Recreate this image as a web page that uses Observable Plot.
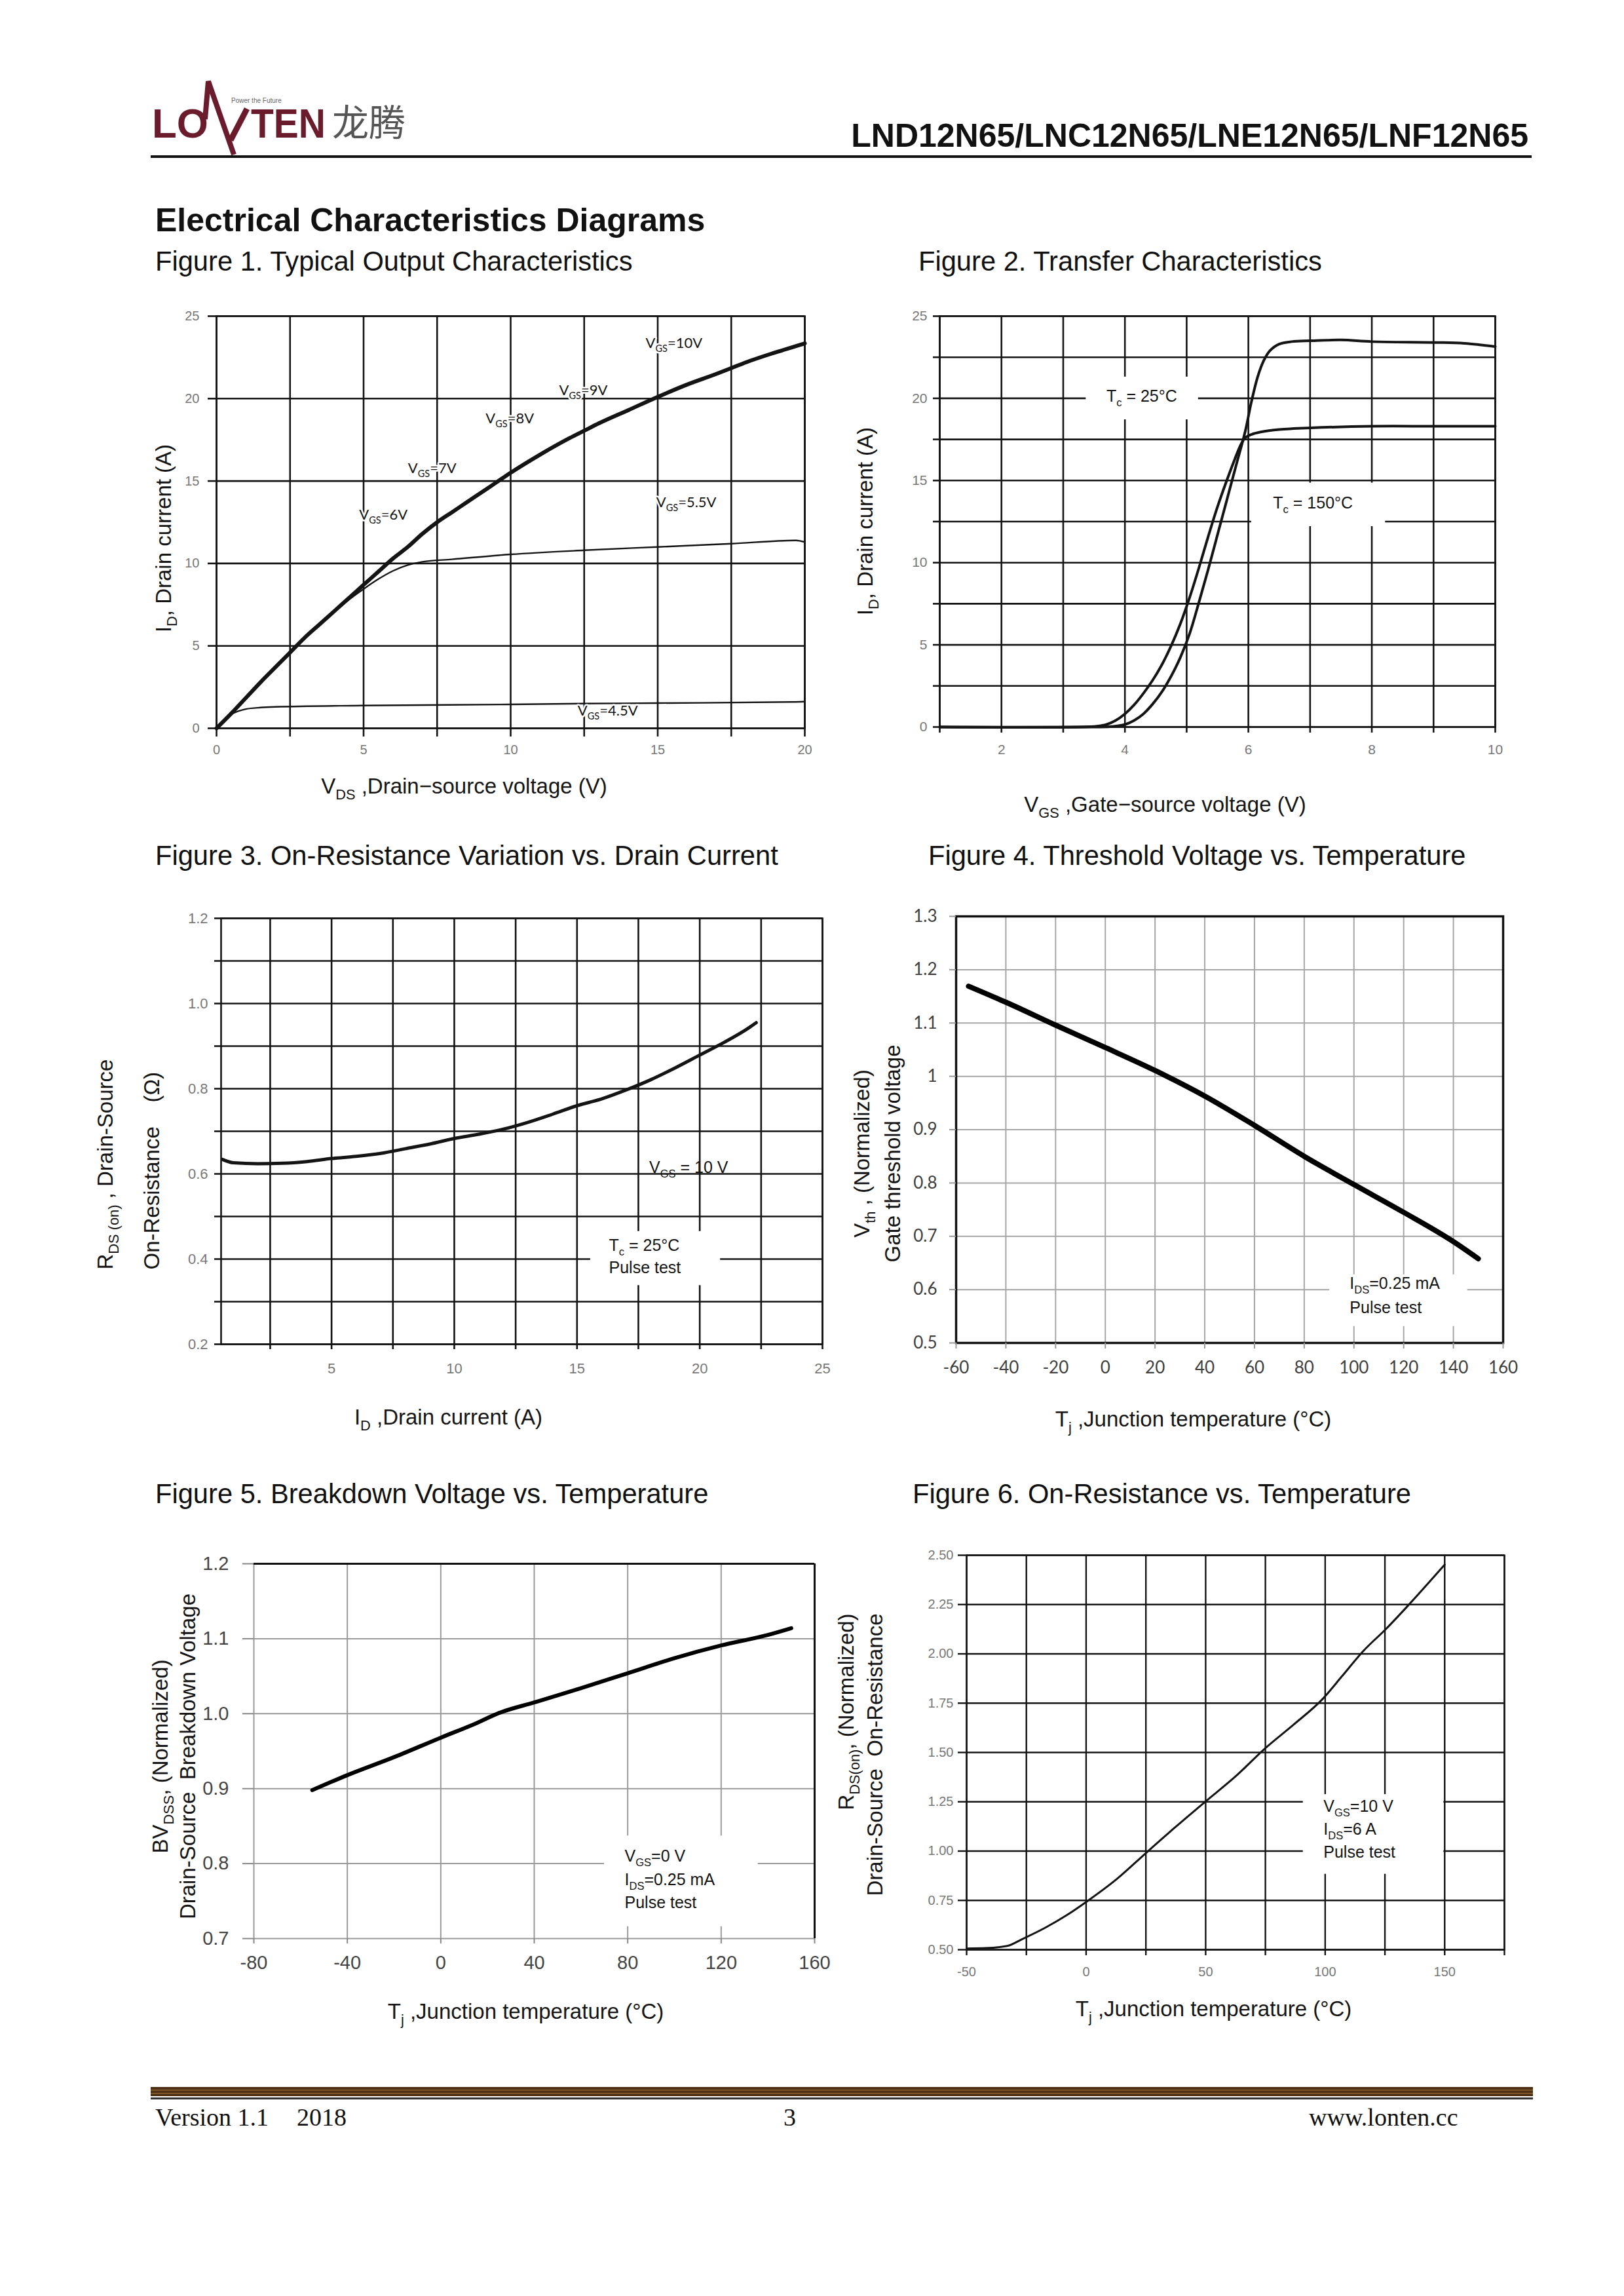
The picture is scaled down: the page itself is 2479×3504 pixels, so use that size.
<!DOCTYPE html>
<html>
<head>
<meta charset="utf-8">
<script src="https://cdn.jsdelivr.net/npm/d3@7"></script>
<script src="https://cdn.jsdelivr.net/npm/@observablehq/plot@0.6"></script>
<style>
html, body { margin: 0; padding: 0; background: #fff; }
#page { position: relative; width: 2479px; height: 3504px; background: #fff; overflow: hidden; }
.chart { position: absolute; }
svg text { white-space: pre; }
</style>
</head>
<body>
<div id="page"></div>
<script>
// ---------------- DATA ----------------
// Figure 1: Typical output characteristics
const f1_vds_10 = [0,0.5,1,1.5,2,2.5,3,3.5,4,4.5,5,5.5,6,6.5,7,7.5,8,8.5,9,9.5,10,11,12,12.5,13,14,15,16,17,17.5,18,19,20];
const f1_id_10  = [0,0.9,1.85,2.8,3.7,4.6,5.5,6.3,7.1,7.9,8.7,9.5,10.3,11.0,11.8,12.5,13.1,13.7,14.3,14.9,15.5,16.6,17.6,18.05,18.5,19.3,20.1,20.85,21.5,21.85,22.2,22.8,23.35];
const f1_vds_55 = [0,1,2,3,4,4.5,5,5.5,6,6.5,7,8,10,12.5,15,17.5,19.7,20];
const f1_id_55  = [0,1.85,3.7,5.5,7.05,7.8,8.45,9.05,9.55,9.9,10.1,10.25,10.55,10.8,11.0,11.2,11.4,11.3];
const f1_vds_45 = [0,0.25,0.5,0.75,1,1.5,2,5,10,12.5,15,19.6,20];
const f1_id_45  = [0,0.5,0.85,1.05,1.17,1.26,1.3,1.38,1.45,1.5,1.53,1.6,1.62];
const f1_xticks = [0,2.5,5,7.5,10,12.5,15,17.5,20];
const f1_xlabels = [0,5,10,15,20];
const f1_yticks = [0,5,10,15,20,25];
const f1_labels = [
  {t: "V_{GS}=10V", x: 14.59, y: 23.34},
  {t: "V_{GS}=9V", x: 11.65, y: 20.5},
  {t: "V_{GS}=8V", x: 9.15, y: 18.78},
  {t: "V_{GS}=7V", x: 6.51, y: 15.78},
  {t: "V_{GS}=6V", x: 4.85, y: 12.95},
  {t: "V_{GS}=5.5V", x: 14.95, y: 13.7},
  {t: "V_{GS}=4.5V", x: 12.28, y: 1.05}
];

// Figure 2: Transfer characteristics
const f2_vgs_25 = [1,3.5,3.8,4.0,4.15,4.3,4.45,4.6,4.75,4.9,5.05,5.2,5.35,5.5,5.65,5.8,5.95,6.05,6.15,6.25,6.35,6.5,6.7,7,7.5,8,9,9.5,10];
const f2_id_25  = [0,0,0.03,0.15,0.4,0.8,1.4,2.15,3.1,4.25,5.7,7.6,9.6,11.7,13.8,15.9,18.0,19.8,21.3,22.3,22.9,23.3,23.45,23.5,23.55,23.45,23.4,23.35,23.15];
const f2_vgs_150 = [1,3.3,3.55,3.7,3.85,4.0,4.15,4.3,4.45,4.6,4.75,4.9,5.05,5.2,5.35,5.5,5.65,5.78,5.88,5.95,6.05,6.2,6.5,7,8,9,10];
const f2_id_150  = [0,0,0.05,0.15,0.4,0.8,1.35,2.05,2.85,3.8,4.95,6.3,7.9,9.7,11.6,13.4,15.0,16.3,17.2,17.6,17.8,17.95,18.1,18.2,18.3,18.3,18.3];
const f2_xticks = [1,2,3,4,5,6,7,8,9,10];
const f2_xlabels = [2,4,6,8,10];
const f2_yticks = [0,2.5,5,7.5,10,12.5,15,17.5,20,22.5,25];
const f2_ylabels = [0,5,10,15,20,25];
const f2_boxes = [{x1: 3.37, x2: 5.19, y1: 18.7, y2: 21.3}, {x1: 6.05, x2: 8.22, y1: 12.2, y2: 14.85}];
const f2_notes = [{t: "T_{c} = 25°C", x: 3.7, y: 20.13}, {t: "T_{c} = 150°C", x: 6.4, y: 13.6}];

// Figure 3: On-resistance vs drain current
const f3_id = [0.55,1,2,3,4,5,6,7,8,9,10,11,12,13,14,15,16,17,18,19,20,21,22,22.3];
const f3_r  = [0.634,0.626,0.624,0.625,0.629,0.636,0.641,0.648,0.659,0.670,0.683,0.693,0.705,0.721,0.740,0.760,0.776,0.797,0.821,0.849,0.879,0.909,0.943,0.955];
const f3_xticks = [2.5,5,7.5,10,12.5,15,17.5,20,22.5,25];
const f3_xlabels = [5,10,15,20,25];
const f3_yticks = [0.2,0.3,0.4,0.5,0.6,0.7,0.8,0.9,1.0,1.1,1.2];
const f3_ylabels = [0.2,0.4,0.6,0.8,1.0,1.2];
const f3_boxes = [{x1: 15.55, x2: 20.84, y1: 0.338, y2: 0.465}];
const f3_notes = [{t: "V_{GS} = 10 V", x: 17.94, y: 0.615}, {t: "T_{c} = 25°C", x: 16.3, y: 0.432}, {t: "Pulse test", x: 16.3, y: 0.379}];

// Figure 4: Threshold voltage vs temperature
const f4_t = [-55,-40,-20,0,20,40,60,80,100,120,140,150];
const f4_v = [1.169,1.139,1.096,1.054,1.011,0.963,0.908,0.850,0.797,0.745,0.690,0.658];
const f4_xticks = [-60,-40,-20,0,20,40,60,80,100,120,140,160];
const f4_yticks = [0.5,0.6,0.7,0.8,0.9,1.0,1.1,1.2,1.3];
const f4_boxes = [{x1: 90.2, x2: 145.7, y1: 0.531, y2: 0.628}];
const f4_notes = [{t: "I_{DS}=0.25 mA", x: 98.3, y: 0.611}, {t: "Pulse test", x: 98.3, y: 0.566}];

// Figure 5: Breakdown voltage vs temperature
const f5_t  = [-55,-40,-20,0,15,25,40,60,80,100,120,140,150];
const f5_bv = [0.898,0.918,0.942,0.968,0.987,1.001,1.015,1.034,1.054,1.074,1.091,1.105,1.114];
const f5_xticks = [-80,-40,0,40,80,120,160];
const f5_yticks = [0.7,0.8,0.9,1.0,1.1,1.2];
const f5_boxes = [{x1: 70, x2: 135.8, y1: 0.716, y2: 0.837}];
const f5_notes = [{t: "V_{GS}=0 V", x: 78.7, y: 0.810}, {t: "I_{DS}=0.25 mA", x: 78.7, y: 0.778}, {t: "Pulse test", x: 78.7, y: 0.748}];

// Figure 6: On-resistance vs temperature
const f6_t = [-50,-42,-33,-27,-17,-8,0,13,25,37,50,63,75,87,99,107,116,125.6,135,150];
const f6_r = [0.506,0.508,0.519,0.552,0.612,0.676,0.742,0.860,0.990,1.118,1.252,1.384,1.522,1.643,1.772,1.886,2.015,2.128,2.249,2.452];
const f6_xticks = [-50,-25,0,25,50,75,100,125,150,175];
const f6_xlabels = [-50,0,50,100,150];
const f6_yticks = [0.5,0.75,1.0,1.25,1.5,1.75,2.0,2.25,2.5];
const f6_boxes = [{x1: 90.8, x2: 149.6, y1: 0.883, y2: 1.287}];
const f6_notes = [{t: "V_{GS}=10 V", x: 99.3, y: 1.226}, {t: "I_{DS}=6 A", x: 99.3, y: 1.110}, {t: "Pulse test", x: 99.3, y: 0.992}];

const figTitles = [
  "Figure 1. Typical Output Characteristics",
  "Figure 2. Transfer Characteristics",
  "Figure 3. On-Resistance Variation vs. Drain Current",
  "Figure 4. Threshold Voltage vs. Temperature",
  "Figure 5. Breakdown Voltage vs. Temperature",
  "Figure 6. On-Resistance vs. Temperature"
];

// ---------------- HELPERS ----------------
const page = document.getElementById("page");
const SANS = "'Liberation Sans', Arial, Helvetica, sans-serif";
const CAL = "Lato, 'Open Sans', 'Liberation Sans', sans-serif";
const SERIF = "'Liberation Serif', 'DejaVu Serif', serif";
const SVGNS = "http://www.w3.org/2000/svg";

const zip = (xs, ys) => xs.map((x, i) => ({x, y: ys[i]}));
const lab = (list, fmt = String) => d => list.includes(d) ? fmt(d) : "";

function applySubs(root) {
  root.querySelectorAll("text").forEach(el => {
    const s = el.textContent;
    if (!s.includes("_{")) return;
    const fs = parseFloat(getComputedStyle(el).fontSize) || 20;
    el.textContent = "";
    const re = /_\{([^}]*)\}/g;
    let last = 0, m;
    while ((m = re.exec(s))) {
      if (m.index > last) el.appendChild(document.createTextNode(s.slice(last, m.index)));
      const t = document.createElementNS(SVGNS, "tspan");
      t.setAttribute("font-size", (fs * 0.66).toFixed(1));
      t.setAttribute("baseline-shift", (-fs * 0.28).toFixed(1));
      t.textContent = m[1];
      el.appendChild(t);
      last = re.lastIndex;
    }
    if (last < s.length) el.appendChild(document.createTextNode(s.slice(last)));
  });
}

// axis title as a text mark anchored to the frame's top-left corner
function axTitle(str, px, py, L, T, o = {}) {
  return Plot.text([str], {
    text: d => d, frameAnchor: "top-left", dx: px - L, dy: py - T,
    textAnchor: "middle", lineAnchor: "middle",
    fontSize: 33, fill: "#151515", fontFamily: SANS, ...o
  });
}

function chart(cfg) {
  const {L, R, T, B} = cfg;
  const mL = 230, mR = 50, mT = 40, mB = 170;
  const width = R - L + mL + mR, height = B - T + mT + mB;
  const svg = Plot.plot({
    width, height, marginLeft: mL, marginRight: mR, marginTop: mT, marginBottom: mB,
    x: {domain: cfg.xDomain}, y: {domain: cfg.yDomain},
    style: {fontFamily: SANS, background: "transparent", overflow: "visible", maxWidth: "none"},
    marks: cfg.marks(L, T)
  });
  const div = document.createElement("div");
  div.className = "chart";
  div.style.left = (L - mL) + "px";
  div.style.top = (T - mT) + "px";
  div.style.width = width + "px";
  div.style.height = height + "px";
  div.appendChild(svg);
  page.appendChild(div);
  applySubs(svg);
}

// ---------------- PAGE OVERLAY (header / footer / figure titles) ----------------
const ov = d3.select(page).append("svg")
  .attr("width", 2479).attr("height", 3504)
  .style("position", "absolute").style("left", 0).style("top", 0);
function txt(x, y, s, o = {}) {
  const t = ov.append("text").attr("x", x).attr("y", y).text(s)
    .attr("font-family", o.ff || SANS).attr("font-size", o.fs || 41.67)
    .attr("fill", o.fill || "#111");
  if (o.fw) t.attr("font-weight", o.fw);
  if (o.anchor) t.attr("text-anchor", o.anchor);
  if (o.len) t.attr("textLength", o.len).attr("lengthAdjust", "spacingAndGlyphs");
  return t;
}
// logo
const LOGO = "#6b1c2c";
txt(232, 210, "LO", {fs: 63, fw: "bold", fill: LOGO, len: 86});
ov.append("path").attr("d", "M313,182 L318,124 L357,236").attr("fill", "none").attr("stroke", LOGO).attr("stroke-width", 8).attr("stroke-linejoin", "miter");
ov.append("path").attr("d", "M352,214 L377,166").attr("fill", "none").attr("stroke", LOGO).attr("stroke-width", 9);
txt(383, 210, "TEN", {fs: 63, fw: "bold", fill: LOGO, len: 114});
txt(353, 157, "Power the Future", {fs: 10, fill: "#666"});
txt(507, 207, "龙腾", {fs: 56, fill: "#555", ff: "'Noto Sans CJK SC', sans-serif"});
// part number and rule
txt(2333, 224, "LND12N65/LNC12N65/LNE12N65/LNF12N65", {fs: 50, fw: "bold", anchor: "end"});
ov.append("rect").attr("x", 230).attr("y", 237).attr("width", 2108).attr("height", 4).attr("fill", "#111");
txt(237, 353, "Electrical Characteristics Diagrams", {fs: 50, fw: "bold"});
// figure titles
const titlePos = [[237, 413], [1402, 413], [237, 1320], [1417, 1320], [237, 2294], [1393, 2294]];
figTitles.forEach((s, i) => txt(titlePos[i][0], titlePos[i][1], s, {fs: 41.67}));
// footer
ov.append("rect").attr("x", 230).attr("y", 3185).attr("width", 2110).attr("height", 14).attr("fill", "#4e3014");
ov.append("rect").attr("x", 230).attr("y", 3189).attr("width", 2110).attr("height", 1.5).attr("fill", "#8a6234");
ov.append("rect").attr("x", 230).attr("y", 3194).attr("width", 2110).attr("height", 1.5).attr("fill", "#8a6234");
ov.append("rect").attr("x", 230).attr("y", 3201).attr("width", 2110).attr("height", 3).attr("fill", "#333");
txt(237, 3244, "Version 1.1", {ff: SERIF, fs: 38});
txt(453, 3244, "2018", {ff: SERIF, fs: 38});
txt(1196, 3244, "3", {ff: SERIF, fs: 38});
txt(1998, 3244, "www.lonten.cc", {ff: SERIF, fs: 38});

// ---------------- CHARTS ----------------
const DARK = "#141414";
const GW = 2.6;

// Figure 1
chart({L: 330, R: 1228, T: 482, B: 1111, xDomain: [0, 20], yDomain: [0, 25], marks: (L, T) => [
  Plot.gridX(f1_xticks, {stroke: DARK, strokeOpacity: 1, strokeWidth: GW}),
  Plot.gridY(f1_yticks, {stroke: DARK, strokeOpacity: 1, strokeWidth: GW}),
  Plot.line(zip(f1_vds_45, f1_id_45), {x: "x", y: "y", stroke: DARK, strokeWidth: 2.4, curve: "monotone-x"}),
  Plot.line(zip(f1_vds_55, f1_id_55), {x: "x", y: "y", stroke: DARK, strokeWidth: 2.4, curve: "monotone-x"}),
  Plot.line(zip(f1_vds_10, f1_id_10), {x: "x", y: "y", stroke: DARK, strokeWidth: 6, curve: "monotone-x"}),
  Plot.frame({stroke: DARK, strokeWidth: GW}),
  Plot.axisX(f1_xticks, {anchor: "bottom", tickSize: 13, tickPadding: 12, tickFormat: lab(f1_xlabels), fontSize: 20, fill: "#777", stroke: DARK, strokeWidth: GW, label: null}),
  Plot.axisY(f1_yticks, {anchor: "left", tickSize: 13, tickPadding: 13, tickFormat: String, fontSize: 20, fill: "#777", stroke: DARK, strokeWidth: GW, label: null}),
  Plot.text(f1_labels, {x: "x", y: "y", text: "t", textAnchor: "start", fontSize: 22, fontFamily: CAL, fill: DARK, stroke: "white", strokeWidth: 5, paintOrder: "stroke"}),
  axTitle("I_{D}, Drain current (A)", 250, 821, L, T, {rotate: -90}),
  axTitle("V_{DS} ,Drain−source voltage (V)", 708, 1200, L, T)
]});

// Figure 2
chart({L: 1434, R: 2282, T: 482, B: 1109, xDomain: [1, 10], yDomain: [0, 25], marks: (L, T) => [
  Plot.gridX(f2_xticks, {stroke: DARK, strokeOpacity: 1, strokeWidth: GW}),
  Plot.gridY(f2_yticks, {stroke: DARK, strokeOpacity: 1, strokeWidth: GW}),
  Plot.rect(f2_boxes, {x1: "x1", x2: "x2", y1: "y1", y2: "y2", fill: "white"}),
  Plot.line(zip(f2_vgs_150, f2_id_150), {x: "x", y: "y", stroke: DARK, strokeWidth: 4, curve: "catmull-rom"}),
  Plot.line(zip(f2_vgs_25, f2_id_25), {x: "x", y: "y", stroke: DARK, strokeWidth: 4, curve: "catmull-rom"}),
  Plot.frame({stroke: DARK, strokeWidth: GW}),
  Plot.axisX(f2_xticks, {anchor: "bottom", tickSize: 9, tickPadding: 18, tickFormat: lab(f2_xlabels), fontSize: 21, fill: "#777", stroke: DARK, strokeWidth: GW, label: null}),
  Plot.axisY(f2_yticks, {anchor: "left", tickSize: 10, tickPadding: 9, tickFormat: lab(f2_ylabels), fontSize: 21, fill: "#777", stroke: DARK, strokeWidth: GW, label: null}),
  Plot.text(f2_notes, {x: "x", y: "y", text: "t", textAnchor: "start", fontSize: 25, fontFamily: SANS, fill: DARK}),
  axTitle("I_{D}, Drain current (A)", 1321, 795, L, T, {rotate: -90}),
  axTitle("V_{GS} ,Gate−source voltage (V)", 1778, 1228, L, T)
]});

// Figure 3
chart({L: 337, R: 1255, T: 1401, B: 2051, xDomain: [0.5, 25], yDomain: [0.2, 1.2], marks: (L, T) => [
  Plot.gridX(f3_xticks, {stroke: DARK, strokeOpacity: 1, strokeWidth: GW}),
  Plot.gridY(f3_yticks, {stroke: DARK, strokeOpacity: 1, strokeWidth: GW}),
  Plot.rect(f3_boxes, {x1: "x1", x2: "x2", y1: "y1", y2: "y2", fill: "white"}),
  Plot.line(zip(f3_id, f3_r), {x: "x", y: "y", stroke: DARK, strokeWidth: 5, curve: "monotone-x"}),
  Plot.frame({stroke: DARK, strokeWidth: GW}),
  Plot.axisX(f3_xticks, {anchor: "bottom", tickSize: 8, tickPadding: 21, tickFormat: lab(f3_xlabels), fontSize: 22, fill: "#777", stroke: DARK, strokeWidth: GW, label: null}),
  Plot.axisY(f3_yticks, {anchor: "left", tickSize: 10, tickPadding: 10, tickFormat: lab(f3_ylabels, d3.format(".1f")), fontSize: 22, fill: "#777", stroke: DARK, strokeWidth: GW, label: null}),
  Plot.text(f3_notes, {x: "x", y: "y", text: "t", textAnchor: "start", fontSize: 25, fontFamily: SANS, fill: DARK}),
  axTitle("R_{DS (on)} , Drain-Source", 161, 1937, L, T, {rotate: -90, textAnchor: "start"}),
  axTitle("On-Resistance    (Ω)", 232, 1937, L, T, {rotate: -90, textAnchor: "start"}),
  axTitle("I_{D} ,Drain current (A)", 684, 2163, L, T)
]});

// Figure 4
chart({L: 1459, R: 2294, T: 1398, B: 2049, xDomain: [-60, 160], yDomain: [0.5, 1.3], marks: (L, T) => [
  Plot.gridX(f4_xticks, {stroke: "#a6a6a6", strokeOpacity: 1, strokeWidth: 2}),
  Plot.gridY(f4_yticks, {stroke: "#a6a6a6", strokeOpacity: 1, strokeWidth: 2}),
  Plot.rect(f4_boxes, {x1: "x1", x2: "x2", y1: "y1", y2: "y2", fill: "white"}),
  Plot.line(zip(f4_t, f4_v), {x: "x", y: "y", stroke: "#000", strokeWidth: 8, curve: "monotone-x"}),
  Plot.frame({stroke: "#111", strokeWidth: 3.5}),
  Plot.axisX(f4_xticks, {anchor: "bottom", tickSize: 9, tickPadding: 19, tickFormat: String, fontSize: 26, fontFamily: CAL, fill: "#404040", stroke: "#999", strokeWidth: 2, label: null}),
  Plot.axisY(f4_yticks, {anchor: "left", tickSize: 10, tickPadding: 19, tickFormat: String, fontSize: 26, fontFamily: CAL, fill: "#404040", stroke: "#999", strokeWidth: 2, label: null}),
  Plot.text(f4_notes, {x: "x", y: "y", text: "t", textAnchor: "start", fontSize: 25, fontFamily: SANS, fill: DARK}),
  axTitle("V_{th} , (Normalized)", 1316, 1760, L, T, {rotate: -90}),
  axTitle("Gate threshold voltage", 1363, 1760, L, T, {rotate: -90}),
  axTitle("T_{j} ,Junction temperature (°C)", 1821, 2166, L, T)
]});

// Figure 5
chart({L: 387, R: 1243, T: 2386, B: 2958, xDomain: [-80, 160], yDomain: [0.7, 1.2], marks: (L, T) => [
  Plot.gridX(f5_xticks, {stroke: "#9a9a9a", strokeOpacity: 1, strokeWidth: 2}),
  Plot.gridY(f5_yticks, {stroke: "#9a9a9a", strokeOpacity: 1, strokeWidth: 2}),
  Plot.rect(f5_boxes, {x1: "x1", x2: "x2", y1: "y1", y2: "y2", fill: "white"}),
  Plot.ruleY([f5_yticks[f5_yticks.length - 1]], {stroke: "#111", strokeWidth: 3}),
  Plot.ruleX([f5_xticks[f5_xticks.length - 1]], {stroke: "#111", strokeWidth: 3}),
  Plot.line(zip(f5_t, f5_bv), {x: "x", y: "y", stroke: "#000", strokeWidth: 6, curve: "monotone-x"}),
  Plot.axisX(f5_xticks, {anchor: "bottom", tickSize: 8, tickPadding: 18, tickFormat: String, fontSize: 29, fill: "#444", stroke: "#888", strokeWidth: 2, label: null}),
  Plot.axisY(f5_yticks, {anchor: "left", tickSize: 17, tickPadding: 21, tickFormat: d3.format(".1f"), fontSize: 29, fill: "#444", stroke: "#888", strokeWidth: 2, label: null}),
  Plot.text(f5_notes, {x: "x", y: "y", text: "t", textAnchor: "start", fontSize: 25, fontFamily: SANS, fill: DARK}),
  axTitle("BV_{DSS}, (Normalized)", 245, 2680, L, T, {rotate: -90}),
  axTitle("Drain-Source  Breakdown Voltage", 287, 2680, L, T, {rotate: -90}),
  axTitle("T_{j} ,Junction temperature (°C)", 802, 3070, L, T)
]});

// Figure 6
chart({L: 1475, R: 2296, T: 2373, B: 2975, xDomain: [-50, 175], yDomain: [0.5, 2.5], marks: (L, T) => [
  Plot.gridX(f6_xticks, {stroke: DARK, strokeOpacity: 1, strokeWidth: 2.4}),
  Plot.gridY(f6_yticks, {stroke: DARK, strokeOpacity: 1, strokeWidth: 2.4}),
  Plot.rect(f6_boxes, {x1: "x1", x2: "x2", y1: "y1", y2: "y2", fill: "white"}),
  Plot.line(zip(f6_t, f6_r), {x: "x", y: "y", stroke: DARK, strokeWidth: 3, curve: "monotone-x"}),
  Plot.frame({stroke: DARK, strokeWidth: 2.4}),
  Plot.axisX(f6_xticks, {anchor: "bottom", tickSize: 9, tickPadding: 17, tickFormat: lab(f6_xlabels), fontSize: 20, fill: "#777", stroke: DARK, strokeWidth: 2.4, label: null}),
  Plot.axisY(f6_yticks, {anchor: "left", tickSize: 13, tickPadding: 7, tickFormat: d3.format(".2f"), fontSize: 20, fill: "#777", stroke: DARK, strokeWidth: 2.4, label: null}),
  Plot.text(f6_notes, {x: "x", y: "y", text: "t", textAnchor: "start", fontSize: 25, fontFamily: SANS, fill: DARK}),
  axTitle("R_{DS(on)}, (Normalized)", 1292, 2462, L, T, {rotate: -90, textAnchor: "end"}),
  axTitle("Drain-Source  On-Resistance", 1336, 2462, L, T, {rotate: -90, textAnchor: "end"}),
  axTitle("T_{j} ,Junction temperature (°C)", 1852, 3066, L, T)
]});
</script>
</body>
</html>
